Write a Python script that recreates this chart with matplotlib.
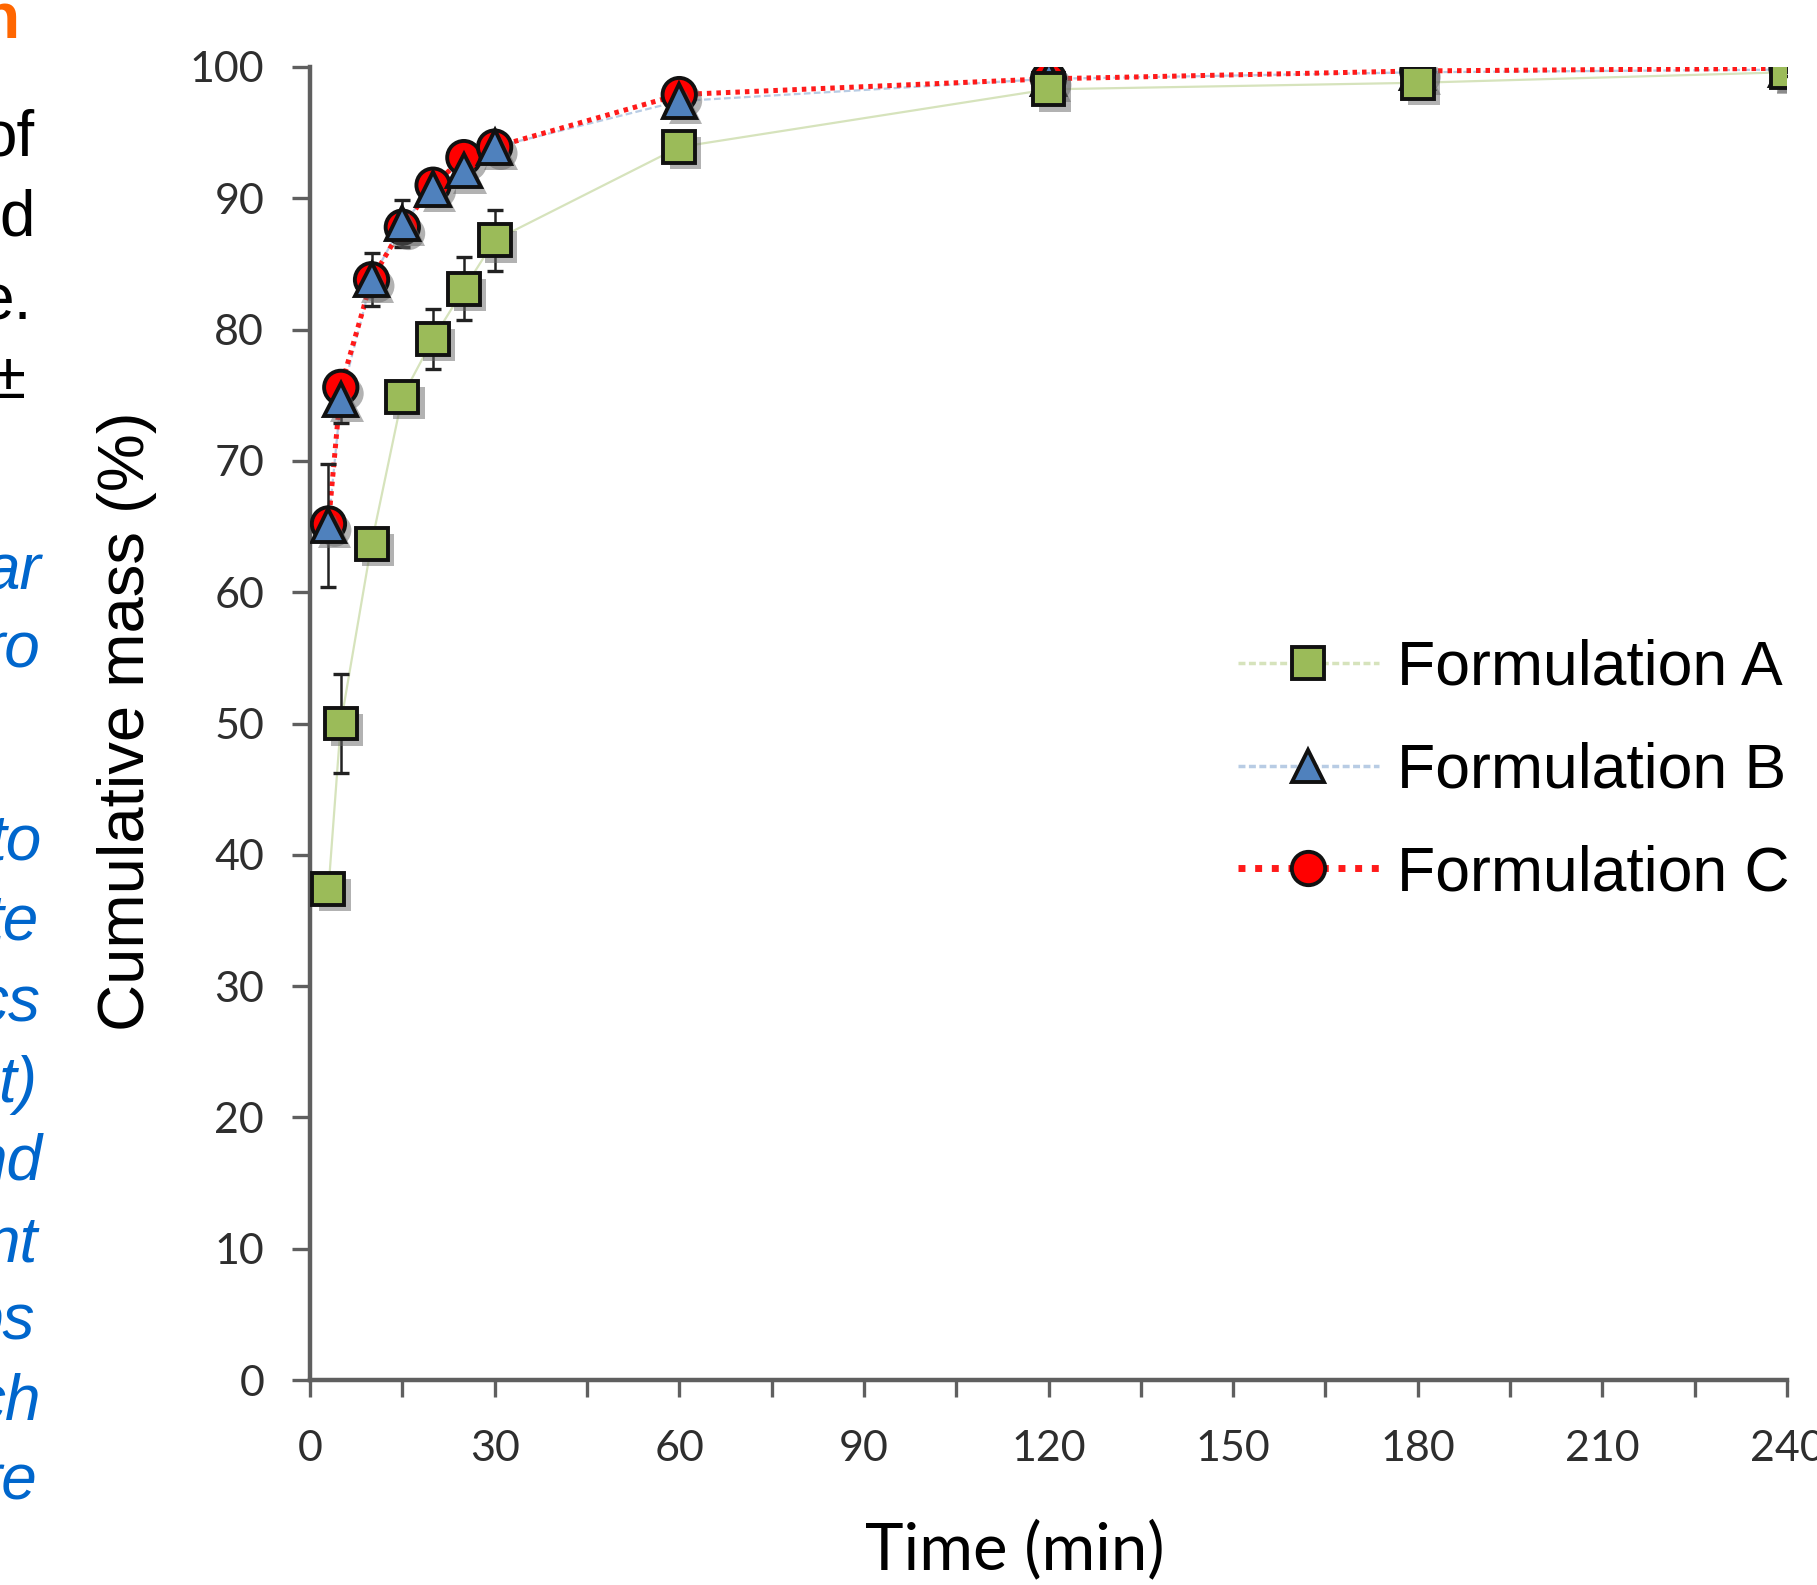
import matplotlib
matplotlib.use("Agg")
import matplotlib.pyplot as plt
import matplotlib.patheffects as pe
from matplotlib.lines import Line2D

# ---------------- data ----------------
time_min = [3, 5, 10, 15, 20, 25, 30, 60, 120, 180, 240]
form_a = [37.4, 50.0, 63.7, 74.9, 79.3, 83.1, 86.8, 93.9, 98.3, 98.8, 99.6]
form_b = [65.1, 74.7, 83.8, 88.1, 90.7, 92.1, 93.9, 97.4, 99.1, 99.6, 99.8]
form_c = [65.2, 75.6, 83.8, 87.8, 91.0, 93.1, 93.9, 97.9, 99.1, 99.7, 99.9]
err_a = [0.6, 3.8, 0.8, 0.8, 2.3, 2.4, 2.3, 0.6, 0.4, 0.4, 0.3]
err_b = [4.7, 1.8, 2.0, 1.8, 0.8, 0.8, 0.6, 0.5, 0.4, 0.3, 0.2]
err_c = [0.8, 0.9, 0.8, 0.8, 0.6, 0.6, 0.5, 0.4, 0.3, 0.3, 0.2]
labels = ["Formulation A", "Formulation B", "Formulation C"]
xticks = [0, 30, 60, 90, 120, 150, 180, 210, 240]
yticks = [0, 10, 20, 30, 40, 50, 60, 70, 80, 90, 100]

# clipped slide text on the left margin (fragments visible in the crop)
black_frag = ["of", "d", "e.", "\u00b1"]
black_right = [35, 35, 32, 26]
black_base = [155, 236, 320, 398]
blue_frag = ["ar", "ro", "to", "te", "cs", "t)", "nd", "nt", "ps", "ch", "re"]
blue_right = [41, 41, 41, 38, 41, 37, 43, 38, 35, 41, 38]
blue_base = [590, 668, 860, 940, 1021, 1102, 1179, 1261, 1339, 1420, 1499]

W, H = 1817, 1585
fig = plt.figure(figsize=(W / 100, H / 100), dpi=100)
ax = fig.add_axes([310 / W, 1 - 1380 / H, (1787 - 310) / W, (1380 - 67) / H])

axis_col = "#5f5f5f"
tick_col = "#2e2e2e"

# lines
ax.plot(time_min, form_a, color="#d6e3bc", lw=1.6, zorder=2)
ax.plot(time_min, form_b, color="#b8cce4", lw=1.6, ls=(0, (3, 1.5)), zorder=2)
ax.plot(time_min, form_c, color="#ff1a1a", lw=3.6, ls=(0, (0.9, 1.0)), zorder=3)

# error bars
for y, e in [(form_c, err_c), (form_b, err_b), (form_a, err_a)]:
    ax.errorbar(time_min, y, yerr=e, fmt="none", ecolor="#222222",
                elinewidth=1.8, capsize=6, capthick=2.4, zorder=4)

shadow = [pe.SimplePatchShadow(offset=(4.5, -4.5), shadow_rgbFace="#666666", alpha=0.5),
          pe.Normal()]
ax.plot(time_min, form_c, ls="none", marker="o", ms=24, mfc="#ff0000", mec="#111111",
        mew=2.8, zorder=5, path_effects=shadow)
ax.plot(time_min, form_b, ls="none", marker="^", ms=24, mfc="#4f81bd", mec="#111111",
        mew=2.8, zorder=6, path_effects=shadow)
ax.plot(time_min, form_a, ls="none", marker="s", ms=23, mfc="#9bbb59", mec="#111111",
        mew=2.8, zorder=7, path_effects=shadow)

# legend proxies
h_a = Line2D([], [], color="#d6e3bc", lw=2.5, ls=(0, (2, 1)), marker="s", ms=23,
             mfc="#9bbb59", mec="#111111", mew=2.8)
h_b = Line2D([], [], color="#b8cce4", lw=2.5, ls=(0, (2, 1)), marker="^", ms=23,
             mfc="#4f81bd", mec="#111111", mew=2.8)
h_c = Line2D([], [], color="#ff1a1a", lw=5, ls=(0, (1, 1.4)), marker="o", ms=24,
             mfc="#ff0000", mec="#111111", mew=2.8)
leg = ax.legend([h_a, h_b, h_c], labels, loc="center left",
                bbox_to_anchor=((1238 - 310) / 1477, (1380 - 771) / 1313),
                frameon=False, borderpad=0, borderaxespad=0, handlelength=2.25,
                handletextpad=0.3, labelspacing=0.7, numpoints=1,
                prop={"family": "Liberation Sans", "size": 45})

# axes styling
ax.set_xlim(0, 240)
ax.set_ylim(0, 100)
ax.set_xticks(xticks)
ax.set_xticks([15, 45, 75, 105, 135, 165, 195, 225], minor=True)
ax.set_yticks(yticks)
for s in ["top", "right"]:
    ax.spines[s].set_visible(False)
for s in ["left", "bottom"]:
    ax.spines[s].set_color(axis_col)
    ax.spines[s].set_linewidth(3.2)
ax.tick_params(axis="y", which="major", direction="out", length=13, width=2.4,
               color=axis_col, pad=20, labelsize=31, labelcolor=tick_col)
ax.tick_params(axis="x", which="both", direction="out", length=12, width=2.4,
               color=axis_col, pad=24, labelsize=31, labelcolor=tick_col)
for lab in ax.get_xticklabels() + ax.get_yticklabels():
    lab.set_family("Lato")

ax.set_xlabel("Time (min)", family="Lato", fontsize=47, color="black")
ax.xaxis.set_label_coords((1015 - 310) / 1477, (1380 - 1550) / 1313)
ax.xaxis.label.set_verticalalignment("center")
ax.set_ylabel("Cumulative mass (%)", family="Liberation Sans", fontsize=47, color="black")
ax.yaxis.set_label_coords((127 - 310) / 1477, (1380 - 721) / 1313)
ax.yaxis.label.set_verticalalignment("center")

# left margin slide text
fig.text(20 / W, 1 - 38 / H, "n", ha="right", va="baseline", color="#ff6600",
         fontsize=46, fontweight="bold", family="Liberation Sans")
for t, r, b in zip(black_frag, black_right, black_base):
    fig.text(r / W, 1 - b / H, t, ha="right", va="baseline", color="black",
             fontsize=46, family="Liberation Sans")
for t, r, b in zip(blue_frag, blue_right, blue_base):
    fig.text(r / W, 1 - b / H, t, ha="right", va="baseline", color="#0066cc",
             fontsize=46, style="italic", family="Liberation Sans")

fig.savefig("out.png", dpi=100)
